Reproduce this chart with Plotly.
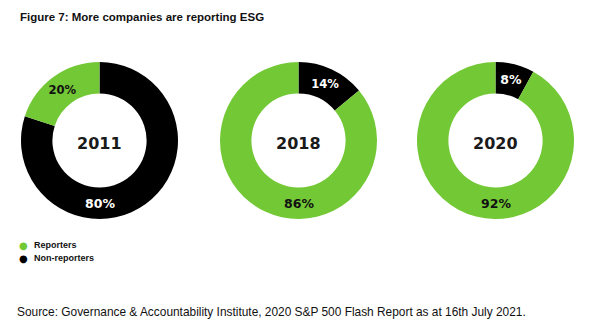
import plotly.graph_objects as go

W, H = 596, 330
years = ["2011", "2018", "2020"]
categories = ["Non-reporters", "Reporters"]
non_reporters = [80, 14, 8]
reporters = [20, 86, 92]
colors = {"Reporters": "#73c836", "Non-reporters": "#000000"}

title = "Figure 7: More companies are reporting ESG"
source = "Source: Governance & Accountability Institute, 2020 S&P 500 Flash Report as at 16th July 2021."

centers_x = [99.5, 298.5, 495.5]
center_y = 140.5
r_out = 78.5
hole = 0.6

fig = go.Figure()
annotations = []
for i, yr in enumerate(years):
    vals = [non_reporters[i], reporters[i]]
    big = 0 if vals[0] > vals[1] else 1
    texts = [f"<b>{v}%</b>" for v in vals]
    shown = [t if j != big else "" for j, t in enumerate(texts)]
    txtcol = ["#ffffff", "#111111"]
    cx = centers_x[i]
    fig.add_trace(go.Pie(
        values=vals, labels=categories, sort=False, direction="clockwise", rotation=0,
        hole=hole, marker=dict(colors=[colors[c] for c in categories], line=dict(width=0)),
        text=shown, textinfo="text", textposition="inside",
        insidetextorientation="horizontal",
        textfont=dict(family="DejaVu Sans", size=12.5, color=txtcol),
        domain=dict(x=[(cx - r_out) / W, (cx + r_out) / W],
                    y=[1 - (center_y + r_out) / H, 1 - (center_y - r_out) / H]),
        showlegend=False, hoverinfo="label+percent",
    ))
    # centre year label
    annotations.append(dict(x=cx / W, y=1 - (center_y + 3.5) / H, xref="paper", yref="paper",
                            xanchor="center", yanchor="middle",
                            text=f"<b>{yr}</b>", showarrow=False,
                            font=dict(family="DejaVu Sans", size=16, color="#1a1a1a")))
    # big slice label at bottom of ring
    ry = center_y + r_out * (1 + hole) / 2
    annotations.append(dict(x=cx / W, y=1 - ry / H, xref="paper", yref="paper",
                            xanchor="center", yanchor="middle",
                            text=texts[big], showarrow=False,
                            font=dict(family="DejaVu Sans", size=12.5, color=txtcol[big])))

annotations.append(dict(x=18 / W, y=1 - 17 / H, xref="paper", yref="paper",
                        xanchor="left", yanchor="middle",
                        text=f"<b>{title}</b>", showarrow=False,
                        font=dict(family="Liberation Sans", size=11.5, color="#111111")))
annotations.append(dict(x=15 / W, y=1 - 312 / H, xref="paper", yref="paper",
                        xanchor="left", yanchor="middle",
                        text=source, showarrow=False,
                        font=dict(family="Liberation Sans", size=11.9, color="#111111")))
for k, (cat, yy) in enumerate([("Reporters", 245), ("Non-reporters", 258)]):
    annotations.append(dict(x=17 / W, y=1 - yy / H, xref="paper", yref="paper",
                            xanchor="left", yanchor="middle",
                            text="●", showarrow=False,
                            font=dict(family="DejaVu Sans", size=10, color=colors[cat])))
    annotations.append(dict(x=32 / W, y=1 - yy / H, xref="paper", yref="paper",
                            xanchor="left", yanchor="middle",
                            text=f"<b>{cat}</b>", showarrow=False,
                            font=dict(family="Liberation Sans", size=9, color="#111111")))

fig.update_layout(width=W, height=H, margin=dict(l=0, r=0, t=0, b=0),
                  paper_bgcolor="white", plot_bgcolor="white",
                  annotations=annotations, showlegend=False)
fig.write_html("out.html")
